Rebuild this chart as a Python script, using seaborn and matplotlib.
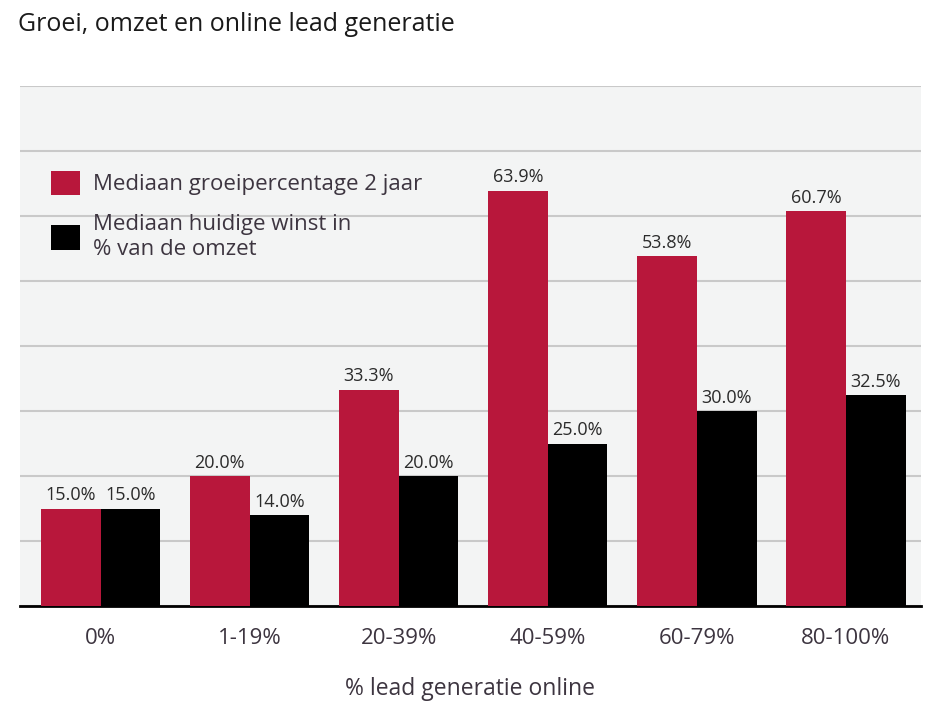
import pandas as pd
import matplotlib.pyplot as plt
import seaborn as sns

categories = ['0%', '1-19%', '20-39%', '40-59%', '60-79%', '80-100%']
groei = [15.0, 20.0, 33.3, 63.9, 53.8, 60.7]
winst = [15.0, 14.0, 20.0, 25.0, 30.0, 32.5]
series_names = ['Mediaan groeipercentage 2 jaar', 'Mediaan huidige winst in\n% van de omzet']

df = pd.DataFrame({
    'cat': categories * 2,
    'value': groei + winst,
    'serie': [series_names[0]] * 6 + [series_names[1]] * 6,
})

sns.set_theme(style="white")
plt.rcParams['font.family'] = ['Open Sans', 'DejaVu Sans']
txt = '#3d3540'

fig = plt.figure(figsize=(9.39, 7.04), dpi=100)
ax = fig.add_axes([0.0213, 0.139, 0.959, 0.739])
ax.set_facecolor('#f3f4f4')

sns.barplot(data=df, x='cat', y='value', hue='serie', order=categories,
            palette=['#b8173b', '#000000'], width=0.8, saturation=1, ax=ax,
            linewidth=0, zorder=3)

for c in ax.containers:
    ax.bar_label(c, labels=[f'{v:.1f}%' for v in c.datavalues], padding=3,
                 fontsize=13, color='#2b2b2b', zorder=4)

ax.set_ylim(0, 80)
ax.set_xlim(-0.54, 5.5)
ax.set_yticks(range(0, 81, 10))
ax.set_yticklabels([])
ax.tick_params(axis='y', length=0)
ax.tick_params(axis='x', length=0, pad=16, labelsize=16, labelcolor=txt)
ax.grid(axis='y', color='#c9c9c9', linewidth=1.5, zorder=0)
ax.set_axisbelow(True)
for s in ['top', 'right', 'left']:
    ax.spines[s].set_visible(False)
ax.spines['bottom'].set_color('black')
ax.spines['bottom'].set_linewidth(2)

ax.set_xlabel('% lead generatie online', fontsize=16.5, color=txt, labelpad=20)
ax.set_ylabel('')

leg = ax.legend(loc='upper left', bbox_to_anchor=(0.012, 0.875), frameon=False,
                fontsize=16, handlelength=1.3, handleheight=1.3,
                labelspacing=0.85, handletextpad=0.6)
for t in leg.get_texts():
    t.set_color(txt)

fig.text(0.019, 0.965, 'Groei, omzet en online lead generatie', fontsize=18,
         color='#1a1a1a', va='center', ha='left')

fig.savefig('out.png', dpi=100, facecolor='white')
